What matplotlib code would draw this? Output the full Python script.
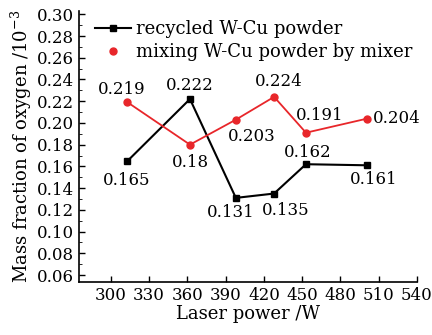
import numpy as np
from matplotlib import pyplot as plt
from matplotlib.lines import Line2D

plt.rcParams['font.family'] = 'DejaVu Serif'
plt.rcParams['mathtext.fontset'] = 'dejavuserif'

# data
power = [313, 362, 398, 428, 453, 501]
recycled = [0.165, 0.222, 0.131, 0.135, 0.162, 0.161]
mixed = [0.219, 0.18, 0.203, 0.224, 0.191, 0.204]
rec_labels = ['0.165', '0.222', '0.131', '0.135', '0.162', '0.161']
mix_labels = ['0.219', '0.18', '0.203', '0.224', '0.191', '0.204']

# label offsets in pixels (dx, dy)
rec_off = [(-1, -20), (0, 14), (-5, -15), (12, -17), (2, 12), (7, -14)]
mix_off = [(-6, 13), (0, -18), (16, -17), (5, 15), (14, 17), (30, 0)]

fig = plt.figure(figsize=(4.32, 3.35), dpi=100)
ax = fig.add_axes([0.183, 0.158, 0.782, 0.809])

red = '#e8262a'
ax.plot(power, recycled, color='black', lw=1.5, marker='s', ms=5)
ax.plot(power, mixed, color=red, lw=1.3, marker='o', ms=5)

for x, y, t, o in zip(power, recycled, rec_labels, rec_off):
    ax.annotate(t, (x, y), xytext=o, textcoords='offset pixels',
                ha='center', va='center', fontsize=12)
for x, y, t, o in zip(power, mixed, mix_labels, mix_off):
    ax.annotate(t, (x, y), xytext=o, textcoords='offset pixels',
                ha='center', va='center', fontsize=12)

ax.set_xlim(275, 540)
ax.set_ylim(0.0535, 0.303)
ax.set_xticks(np.arange(300, 541, 30))
ax.set_yticks(np.arange(0.06, 0.301, 0.02))
ax.set_yticks(np.arange(0.06, 0.30, 0.01), minor=True)
ax.set_yticklabels(['%.2f' % v for v in np.arange(0.06, 0.301, 0.02)])
ax.tick_params(direction='in', labelsize=12, length=4, width=1)
ax.tick_params(which='minor', direction='in', length=2.5)
ax.spines['top'].set_visible(False)
ax.spines['right'].set_visible(False)
ax.spines['left'].set_linewidth(1.2)
ax.spines['bottom'].set_linewidth(1.2)

ax.set_xlabel('Laser power /W', fontsize=13, labelpad=1)
ax.set_ylabel('Mass fraction of oxygen /10$^{-3}$', fontsize=13, labelpad=2)

handles = [Line2D([], [], color='black', lw=1.5, marker='s', ms=5),
           Line2D([], [], color=red, lw=0, marker='o', ms=5)]
ax.legend(handles, ['recycled W-Cu powder', 'mixing W-Cu powder by mixer'],
          loc='upper left', bbox_to_anchor=(0.02, 1.0), frameon=False,
          fontsize=13, handlelength=2.0, handletextpad=0.3,
          labelspacing=0.3, borderaxespad=0.1)

plt.savefig('out.png', dpi=100)
